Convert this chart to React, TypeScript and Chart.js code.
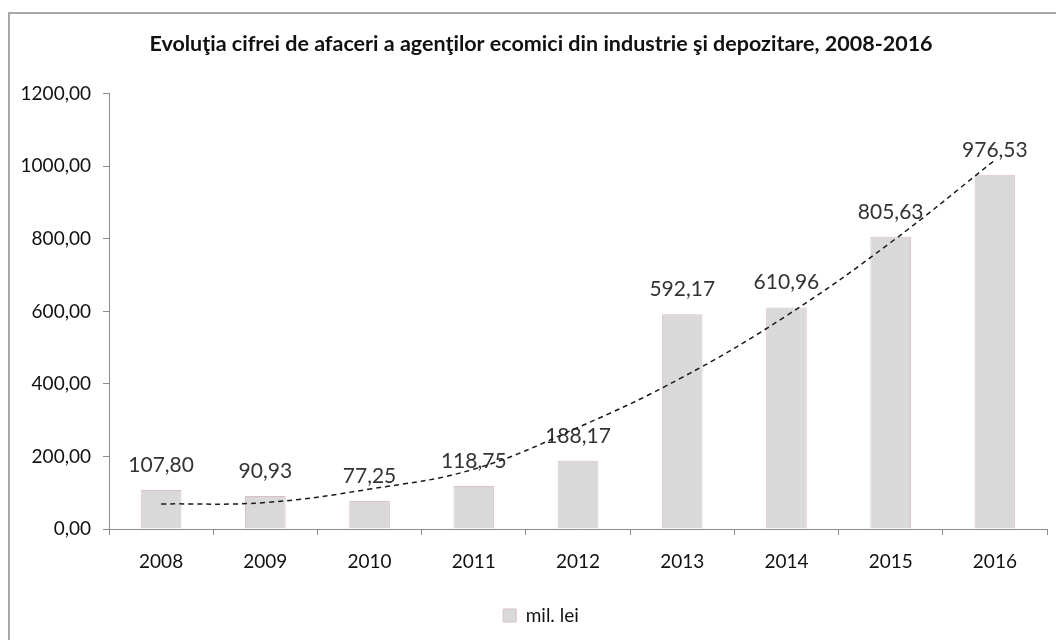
import React, { useEffect, useRef } from "react";
import { Chart, registerables } from "chart.js";

Chart.register(...registerables);

const titleText =
  "Evoluţia cifrei de afaceri a agenţilor ecomici din industrie şi depozitare, 2008-2016";
const categories = ["2008", "2009", "2010", "2011", "2012", "2013", "2014", "2015", "2016"];
const seriesName = "mil. lei";
const values = [107.8, 90.93, 77.25, 118.75, 188.17, 592.17, 610.96, 805.63, 976.53];
// dashed trendline at each year
const trendValues = [69, 73, 110, 165, 280, 418, 588, 790, 1017];
const yMin = 0;
const yMax = 1200;
const yStep = 200;

const FONT = "Lato, 'Noto Sans', sans-serif";
const fmt = (v: number) => v.toFixed(2).replace(".", ",");

const valueLabels = {
  id: "valueLabels",
  afterDatasetDraw(chart: any, args: any) {
    if (args.index !== 0) return;
    const ctx = chart.ctx;
    const meta = chart.getDatasetMeta(0);
    ctx.save();
    ctx.font = `21px ${FONT}`;
    ctx.fillStyle = "#333333";
    ctx.textAlign = "center";
    ctx.textBaseline = "middle";
    meta.data.forEach((bar: any, i: number) => {
      ctx.fillText(fmt(values[i]), bar.x, bar.y - 25);
    });
    ctx.restore();
  },
};

const CANVAS_W = 1062;
const CANVAS_H = 626;

export default function App() {
  const ref = useRef<HTMLCanvasElement | null>(null);
  useEffect(() => {
    if (!ref.current) return;
    const chart = new Chart(ref.current, {
      type: "bar",
      data: {
        labels: categories,
        datasets: [
          {
            type: "bar",
            label: seriesName,
            data: values,
            backgroundColor: "#d9d9d9",
            borderColor: "#dcc0c4",
            borderWidth: 1,
            barPercentage: 0.39,
            categoryPercentage: 1,
            order: 1,
          },
          {
            type: "line",
            label: "trend",
            data: trendValues,
            borderColor: "#1a1a1a",
            borderWidth: 1.5,
            borderDash: [5, 4],
            pointRadius: 0,
            tension: 0.4,
            fill: false,
            order: 0,
          } as any,
        ],
      },
      options: {
        animation: false,
        responsive: false,
        layout: { padding: { left: 0, right: 0, top: 0, bottom: 5 } },
        plugins: {
          title: {
            display: true,
            text: titleText,
            color: "#111111",
            font: { family: FONT, size: 21.5, weight: "bold" },
            padding: { top: 17, bottom: 37 },
          },
          legend: {
            display: true,
            position: "bottom",
            labels: {
              filter: (item: any) => item.datasetIndex === 0,
              boxWidth: 13,
              boxHeight: 13,
              padding: 10,
              color: "#111111",
              font: { family: FONT, size: 19 },
            },
          },
          tooltip: { enabled: false },
        },
        scales: {
          x: {
            offset: true,
            grid: {
              display: true,
              offset: true,
              drawOnChartArea: false,
              drawTicks: true,
              tickLength: 6,
              color: "#8c8c8c",
            },
            border: { display: true, color: "#8c8c8c", width: 1 },
            ticks: {
              color: "#111111",
              font: { family: FONT, size: 19 },
              padding: 15,
            },
            afterFit: (s: any) => {
              s.height = 67;
            },
          },
          y: {
            min: yMin,
            max: yMax,
            grid: {
              display: true,
              drawOnChartArea: false,
              drawTicks: true,
              tickLength: 6,
              color: "#8c8c8c",
            },
            border: { display: true, color: "#8c8c8c", width: 1 },
            ticks: {
              stepSize: yStep,
              color: "#111111",
              font: { family: FONT, size: 19 },
              padding: 12,
              callback: (v: any) => fmt(Number(v)),
            },
            afterFit: (s: any) => {
              s.width = 99;
            },
          },
          yRight: {
            position: "right",
            display: true,
            grid: { display: false },
            border: { display: false },
            ticks: { display: false },
            afterFit: (s: any) => {
              s.width = 25;
            },
          },
        },
      },
      plugins: [valueLabels],
    });
    return () => chart.destroy();
  }, []);

  return (
    <div style={{ paddingTop: 4 }}>
      <div
        style={{
          width: 1046,
          height: 626,
          overflow: "hidden",
          borderTop: "2px solid #a8a8a8",
          borderLeft: "2px solid #a8a8a8",
          background: "#ffffff",
        }}
      >
        <canvas
          ref={ref}
          width={CANVAS_W}
          height={CANVAS_H}
          style={{ display: "block", width: CANVAS_W, height: CANVAS_H }}
        />
      </div>
    </div>
  );
}
